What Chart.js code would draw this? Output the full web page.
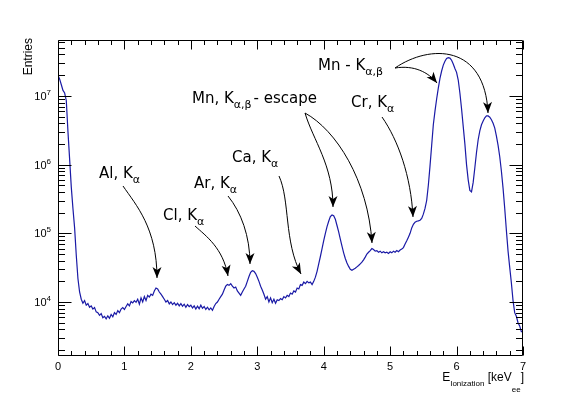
<!DOCTYPE html>
<html><head><meta charset="utf-8">
<script src="https://cdn.jsdelivr.net/npm/chart.js@4.4.1/dist/chart.umd.min.js"></script>
<style>html,body{margin:0;padding:0;background:#fff}canvas{display:block}</style>
</head><body>
<canvas id="c" width="581" height="396"></canvas>
<script>
// ---- data (histogram, bin width 0.025 keV, starting at 0) ----
const binWidth = 0.025;
const xMin = 0, xMax = 7;
const yMin = 1640, yMax = 6.5e7;
const counts = [
 2.0e7,1.75e7,1.45e7,1.2e7,1.1e7,8.5e6,3.0e6,1.2e6,4.7e5,2.3e5,1.2e5,4.8e4,2.2e4,1.4e4,1.1e4,9.6e3,1.05e4,9.0e3,9.5e3,8.4e3,
 8.8e3,7.9e3,8.3e3,7.2e3,7.0e3,6.4e3,6.8e3,5.9e3,6.2e3,5.7e3,6.3e3,5.8e3,6.6e3,6.1e3,7.0e3,6.6e3,7.5e3,7.0e3,7.9e3,8.3e3,
 7.8e3,8.6e3,9.4e3,8.8e3,1.02e4,9.7e3,1.05e4,9.9e3,1.1e4,9.3e3,1.15e4,1.0e4,1.2e4,1.05e4,1.25e4,1.18e4,1.3e4,1.25e4,1.45e4,1.6e4,
 1.55e4,1.4e4,1.3e4,1.2e4,1.1e4,1.0e4,1.05e4,9.4e3,1.0e4,9.2e3,9.8e3,9.0e3,9.6e3,8.8e3,9.5e3,8.7e3,9.3e3,8.4e3,9.2e3,8.6e3,
 9.0e3,8.2e3,8.8e3,7.9e3,8.7e3,8.0e3,9.0e3,8.1e3,8.6e3,7.8e3,8.4e3,7.7e3,8.2e3,7.6e3,8.6e3,9.5e3,1.0e4,1.1e4,1.2e4,1.3e4,
 1.5e4,1.7e4,1.8e4,1.75e4,1.85e4,1.7e4,1.6e4,1.65e4,1.45e4,1.35e4,1.25e4,1.4e4,1.55e4,1.7e4,2.0e4,2.35e4,2.7e4,2.85e4,2.8e4,2.6e4,
 2.3e4,2.0e4,1.7e4,1.5e4,1.3e4,1.1e4,1.2e4,1.0e4,1.15e4,9.8e3,1.1e4,9.6e3,1.08e4,1.05e4,1.12e4,1.08e4,1.2e4,1.15e4,1.25e4,1.2e4,
 1.35e4,1.3e4,1.45e4,1.4e4,1.6e4,1.55e4,1.8e4,1.75e4,1.95e4,1.85e4,2.0e4,1.9e4,1.95e4,1.8e4,2.0e4,2.3e4,2.8e4,3.6e4,4.6e4,6.0e4,
 7.8e4,1.0e5,1.25e5,1.5e5,1.75e5,1.85e5,1.8e5,1.6e5,1.3e5,1.05e5,8.2e4,6.5e4,5.2e4,4.3e4,3.7e4,3.3e4,3.0e4,2.9e4,3.0e4,3.1e4,
 3.25e4,3.4e4,3.6e4,3.8e4,4.1e4,4.5e4,5.0e4,5.3e4,5.6e4,6.0e4,5.8e4,5.5e4,5.6e4,5.3e4,5.5e4,5.2e4,5.4e4,5.2e4,5.3e4,5.1e4,
 5.4e4,5.2e4,5.5e4,5.3e4,5.6e4,5.4e4,5.7e4,5.9e4,6.2e4,7.0e4,7.8e4,8.8e4,1.0e5,1.2e5,1.35e5,1.45e5,1.5e5,1.52e5,1.55e5,1.65e5,
 1.9e5,2.3e5,3.0e5,5.0e5,9.5e5,1.9e6,3.8e6,6.0e6,9.0e6,1.3e7,1.8e7,2.3e7,2.8e7,3.2e7,3.5e7,3.6e7,3.55e7,3.3e7,2.9e7,2.5e7,
 2.2e7,1.7e7,1.1e7,6.5e6,3.6e6,2.0e6,1.0e6,6.0e5,4.2e5,4.0e5,5.5e5,9.0e5,1.5e6,2.3e6,3.1e6,3.8e6,4.3e6,4.8e6,5.1e6,5.1e6,
 4.9e6,4.5e6,4.0e6,3.4e6,2.6e6,1.9e6,1.3e6,8.0e5,4.5e5,2.3e5,1.1e5,5.5e4,3.2e4,1.9e4,1.05e4,7.0e3,6.2e3,5.0e3,4.5e3,3.7e3
];
const xTickLabels = ['0','1','2','3','4','5','6','7'];
const yDecadeExponents = [4,5,6,7];
const yTitle = 'Entries';

// ---- annotations (decorations) ----
const FONT = '"DejaVu Sans", sans-serif';
const labels = [
  {x:99,  y:178, parts:[['Al, K',0],['α',1]]},
  {x:163, y:220, parts:[['Cl, K',0],['α',1]]},
  {x:194, y:188, parts:[['Ar, K',0],['α',1]]},
  {x:232, y:162, parts:[['Ca, K',0],['α',1]]},
  {x:192, y:103, parts:[['Mn, K',0],['α,β',1],['- escape',0]]},
  {x:351, y:107, parts:[['Cr, K',0],['α',1]]},
  {x:318, y:70,  parts:[['Mn - K',0],['α,β',1]]}
];
const arrows = [
  {p0:[123,186], c1:[136,205], c2:[157,228], p1:[157,278]},
  {p0:[195,226], c1:[206,236], c2:[223,248], p1:[228,276]},
  {p0:[228,196], c1:[241,212], c2:[250,236], p1:[250,264]},
  {p0:[279,176], c1:[290,200], c2:[284,242], p1:[301,274]},
  {p0:[305,113], c1:[313,140], c2:[333,165], p1:[333,207]},
  {p0:[305,113], c1:[336,130], c2:[368,180], p1:[372,243]},
  {p0:[382,117], c1:[398,140], c2:[411,176], p1:[413,217]},
  {p0:[395,68],  c1:[414,65],  c2:[428,72],  p1:[437,83]},
  {p0:[395,68],  c1:[430,44],  c2:[485,44],  p1:[488,113]}
];

const points = counts.map((v,i)=>({x:i*binWidth, y:v}));
points.push({x:xMax, y:counts[counts.length-1]});

const rootAxes = {
  id:'rootAxes',
  afterDraw(chart){
    const {ctx, chartArea:a, scales:{x, y}} = chart;
    ctx.save();
    ctx.strokeStyle = '#000'; ctx.lineWidth = 1;
    const L = Math.round(a.left)+0.5, R = Math.round(a.right)-0.5, T = Math.round(a.top)+0.5, B = Math.round(a.bottom)-0.5;
    ctx.beginPath();
    ctx.moveTo(L,T); ctx.lineTo(R,T); ctx.lineTo(R,B); ctx.lineTo(L,B); ctx.closePath();
    ctx.stroke();
    ctx.beginPath();
    for (let i=0;i<=35;i++){
      const v = i*0.2; const px = Math.round(x.getPixelForValue(v))+0.5;
      const len = (i%5===0)?9:4.5;
      ctx.moveTo(px,B); ctx.lineTo(px,B-len);
      ctx.moveTo(px,T); ctx.lineTo(px,T+len);
    }
    for (let d=3; d<=7; d++){
      for (let m=1;m<=9;m++){
        const v = m*Math.pow(10,d);
        if (v<yMin || v>yMax) continue;
        const py = Math.round(y.getPixelForValue(v))+0.5;
        const len = (m===1)?13:6.5;
        ctx.moveTo(L,py); ctx.lineTo(L+len,py);
        ctx.moveTo(R,py); ctx.lineTo(R-len,py);
      }
    }
    ctx.stroke();
    ctx.fillStyle='#000';
    ctx.font = '11px "Liberation Sans", Arial, sans-serif';
    ctx.textAlign='center'; ctx.textBaseline='alphabetic';
    xTickLabels.forEach((t,i)=>{ ctx.fillText(t, x.getPixelForValue(i), 370); });
    yDecadeExponents.forEach(e=>{
      const py = y.getPixelForValue(Math.pow(10,e));
      ctx.font = '8px "Liberation Sans", Arial, sans-serif';
      const ew = ctx.measureText(String(e)).width;
      ctx.textAlign='right';
      ctx.fillText(String(e), 51, py-1);
      ctx.font = '11px "Liberation Sans", Arial, sans-serif';
      ctx.fillText('10', 51-ew, py+4);
    });
    ctx.save();
    ctx.translate(32, 38); ctx.rotate(-Math.PI/2);
    ctx.font = '12px "Liberation Sans", Arial, sans-serif';
    ctx.textAlign='right'; ctx.fillText(yTitle, 0, 0);
    ctx.restore();
    const parts = [['E',12,0],['Ionization',8,5],[' [keV',12,0],['ee',8,11],[']',12,0]];
    let tw = 0;
    parts.forEach(p=>{ ctx.font = p[1]+'px "Liberation Sans", Arial, sans-serif'; p.w = ctx.measureText(p[0]).width; tw += p.w; });
    let cx = 524 - tw;
    ctx.textAlign='left';
    parts.forEach(p=>{ ctx.font = p[1]+'px "Liberation Sans", Arial, sans-serif'; ctx.fillText(p[0], cx, 381+p[2]); cx += p.w; });

    labels.forEach(l=>{
      let cx = l.x;
      l.parts.forEach(([t,sub])=>{
        ctx.font = (sub? '11px ':'15px ') + FONT;
        ctx.fillText(t, cx, l.y + (sub?5:0));
        cx += ctx.measureText(t).width + (sub?2:0);
      });
    });
    ctx.lineWidth = 1; ctx.strokeStyle='#000';
    arrows.forEach(ar=>{
      ctx.beginPath();
      ctx.moveTo(...ar.p0);
      ctx.bezierCurveTo(...ar.c1, ...ar.c2, ...ar.p1);
      ctx.stroke();
      let dx = ar.p1[0]-ar.c2[0], dy = ar.p1[1]-ar.c2[1];
      const n = Math.hypot(dx,dy); dx/=n; dy/=n;
      const len=11, hw=4.5, notch=3;
      const bx = ar.p1[0]-dx*len, by = ar.p1[1]-dy*len;
      ctx.beginPath();
      ctx.moveTo(ar.p1[0], ar.p1[1]);
      ctx.lineTo(bx - dy*hw, by + dx*hw);
      ctx.lineTo(ar.p1[0]-dx*(len-notch), ar.p1[1]-dy*(len-notch));
      ctx.lineTo(bx + dy*hw, by - dx*hw);
      ctx.closePath();
      ctx.fill();
    });
    ctx.restore();
  }
};

new Chart(document.getElementById('c'), {
  type:'line',
  data:{ datasets:[{ data: points, borderColor:'#1a1aa6', borderWidth:1.2, pointRadius:0, fill:false, tension:0 }]},
  options:{
    responsive:false, animation:false, devicePixelRatio:1,
    layout:{ padding:{left:58, right:58, top:40, bottom:40} },
    plugins:{ legend:{display:false}, tooltip:{enabled:false} },
    scales:{
      x:{ type:'linear', min:xMin, max:xMax, display:false },
      y:{ type:'logarithmic', min:yMin, max:yMax, display:false }
    }
  },
  plugins:[rootAxes]
});
</script>
</body></html>
